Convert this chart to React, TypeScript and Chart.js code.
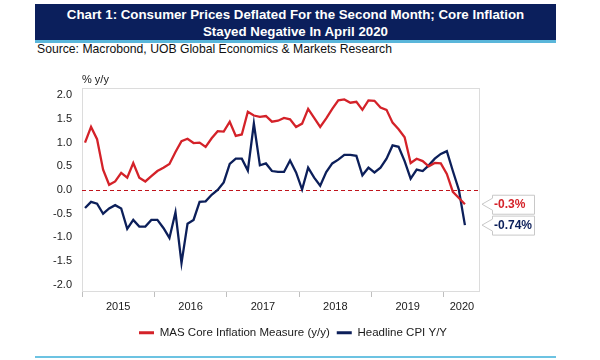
import React, { useEffect, useRef } from "react";
import { Chart, registerables } from "chart.js";

Chart.register(...registerables);

const FONT = "'Liberation Sans', Arial, Helvetica, sans-serif";

const titleLines = [
  "Chart 1: Consumer Prices Deflated For the Second Month; Core Inflation",
  "Stayed Negative In April 2020",
];
const sourceText = "Source: Macrobond, UOB Global Economics & Markets Research";
const yUnit = "% y/y";

const years = ["2015", "2016", "2017", "2018", "2019", "2020"];
const monthsShown = 66; // Jan 2015 .. Jun 2020 axis span

const seriesNames = ["MAS Core Inflation Measure (y/y)", "Headline CPI Y/Y"];

// Monthly, Jan 2015 .. Apr 2020
const coreInflation = [
  1.0, 1.33, 1.07, 0.43, 0.11, 0.18, 0.36, 0.26, 0.57, 0.26, 0.18, 0.29,
  0.4, 0.47, 0.55, 0.8, 1.03, 1.08, 0.99, 1.0, 0.91, 1.09, 1.24, 1.23,
  1.44, 1.14, 1.17, 1.65, 1.57, 1.54, 1.56, 1.44, 1.46, 1.52, 1.49, 1.33,
  1.4, 1.71, 1.52, 1.33, 1.51, 1.71, 1.89, 1.91, 1.84, 1.86, 1.69, 1.89,
  1.88, 1.74, 1.69, 1.42, 1.28, 1.11, 0.57, 0.66, 0.61, 0.5, 0.57, 0.56,
  0.34, -0.04, -0.17, -0.3,
];
const headlineCpi = [
  -0.38, -0.25, -0.29, -0.5, -0.39, -0.32, -0.39, -0.82, -0.63, -0.77, -0.77, -0.63,
  -0.63, -0.8, -1.01, -0.47, -1.54, -0.71, -0.63, -0.25, -0.24, -0.1, 0.0, 0.16,
  0.55, 0.66, 0.66, 0.41, 1.4, 0.52, 0.56, 0.4, 0.38, 0.38, 0.62, 0.37,
  0.01, 0.47, 0.26, 0.09, 0.38, 0.56, 0.64, 0.74, 0.74, 0.72, 0.31, 0.47,
  0.37, 0.47, 0.66, 0.94, 0.91, 0.61, 0.24, 0.43, 0.4, 0.52, 0.66, 0.76,
  0.82, 0.4, 0.0, -0.74,
];

const calloutLabels = ["-0.3%", "-0.74%"];
const yTickValues = [2.0, 1.5, 1.0, 0.5, 0.0, -0.5, -1.0, -1.5, -2.0];
const yMin = -2.15;
const yMax = 2.15;

const RED = "#d42229";
const NAVY = "#0c1f5a";

const toPoints = (arr: number[]) => arr.map((v, i) => ({ x: i + 0.5, y: v }));

function yearCenter(k: number) {
  const start = k * 12;
  return Math.min(start + 6, (start + monthsShown) / 2);
}

const xTickValues = (() => {
  const vals: number[] = [];
  years.forEach((_, k) => {
    const s = k * 12;
    if (s <= monthsShown) vals.push(s);
    vals.push(yearCenter(k));
  });
  vals.push(monthsShown);
  return Array.from(new Set(vals)).sort((a, b) => a - b);
})();

const decorPlugin = {
  id: "decor",
  beforeDatasetsDraw(chart: any) {
    const { ctx, chartArea } = chart;
    const { left, top, right, bottom } = chartArea;
    ctx.save();
    ctx.strokeStyle = "#dcdcdc";
    ctx.lineWidth = 1;
    ctx.strokeRect(left + 0.5, top + 0.5, right - left - 1, bottom - top - 1);
    const y0 = Math.round(chart.scales.y.getPixelForValue(0)) + 0.5;
    ctx.strokeStyle = "#c0141c";
    ctx.setLineDash([4, 3]);
    ctx.beginPath();
    ctx.moveTo(left, y0);
    ctx.lineTo(right, y0);
    ctx.stroke();
    ctx.restore();
  },
  afterDraw(chart: any) {
    const { ctx, chartArea } = chart;
    ctx.save();
    ctx.fillStyle = "#1a1a1a";
    ctx.font = `11px ${FONT}`;
    ctx.textBaseline = "middle";
    ctx.textAlign = "left";
    ctx.fillText(yUnit, chartArea.left, chartArea.top - 8);

    const colors = [RED, NAVY];
    const series = [coreInflation, headlineCpi];
    series.forEach((s, k) => {
      const cy = chart.scales.y.getPixelForValue(s[s.length - 1]);
      const tipX = chartArea.right + 2;
      const bx = chartArea.right + 12;
      const bw = 42;
      const bh = 19;
      const bt = cy - bh / 2;
      ctx.beginPath();
      ctx.moveTo(bx + 0.5, bt + 0.5);
      ctx.lineTo(bx + bw + 0.5, bt + 0.5);
      ctx.lineTo(bx + bw + 0.5, bt + bh + 0.5);
      ctx.lineTo(bx + 0.5, bt + bh + 0.5);
      ctx.lineTo(bx + 0.5, cy + 6);
      ctx.lineTo(tipX, cy);
      ctx.lineTo(bx + 0.5, cy - 6);
      ctx.closePath();
      ctx.fillStyle = "#ffffff";
      ctx.fill();
      ctx.strokeStyle = "#c8c8c8";
      ctx.lineWidth = 1;
      ctx.stroke();
      ctx.fillStyle = colors[k];
      ctx.font = `bold 12px ${FONT}`;
      ctx.textAlign = "left";
      ctx.textBaseline = "middle";
      ctx.fillText(calloutLabels[k], bx + 2, cy + 0.5);
    });
    ctx.restore();
  },
};

function ChartCanvas() {
  const ref = useRef<HTMLCanvasElement | null>(null);
  useEffect(() => {
    if (!ref.current) return;
    const chart = new Chart(ref.current, {
      type: "line",
      data: {
        datasets: [
          {
            label: seriesNames[0],
            data: toPoints(coreInflation),
            borderColor: RED,
            backgroundColor: RED,
            borderWidth: 2.3,
            pointRadius: 0,
            tension: 0,
            fill: false,
          },
          {
            label: seriesNames[1],
            data: toPoints(headlineCpi),
            borderColor: NAVY,
            backgroundColor: NAVY,
            borderWidth: 2.3,
            pointRadius: 0,
            tension: 0,
            fill: false,
          },
        ],
      },
      options: {
        animation: false,
        responsive: false,
        layout: { padding: { top: 28, bottom: 1.5, left: 0, right: 14 } },
        plugins: {
          tooltip: { enabled: false },
          legend: {
            position: "bottom",
            labels: {
              boxWidth: 15,
              boxHeight: 3,
              padding: 7,
              color: "#1a1a1a",
              font: { family: FONT, size: 11.5 },
              generateLabels: (c: any) =>
                (Chart.defaults.plugins.legend.labels.generateLabels as any)(c).map((l: any) => ({
                  ...l,
                  lineWidth: 0,
                })),
            },
          },
        },
        scales: {
          x: {
            type: "linear",
            min: 0,
            max: monthsShown,
            afterBuildTicks: (scale: any) => {
              scale.ticks = xTickValues.map((v) => ({ value: v }));
            },
            afterFit: (scale: any) => {
              scale.height = 28;
            },
            border: { display: false },
            grid: {
              drawOnChartArea: false,
              drawTicks: true,
              tickLength: 5,
              color: (ctx: any) =>
                ctx.tick && ctx.tick.value % 12 === 0 && ctx.tick.value < monthsShown ? "#bfbfbf" : "rgba(0,0,0,0)",
              tickColor: (ctx: any) =>
                ctx.tick && ctx.tick.value % 12 === 0 && ctx.tick.value < monthsShown ? "#bfbfbf" : "rgba(0,0,0,0)",
            },
            ticks: {
              autoSkip: false,
              maxRotation: 0,
              padding: 3,
              color: "#1a1a1a",
              font: { family: FONT, size: 11 },
              callback: (value: any) => {
                const k = years.findIndex((_, i) => Math.abs(yearCenter(i) - Number(value)) < 1e-6);
                return k >= 0 ? years[k] : "";
              },
            },
          },
          y: {
            type: "linear",
            position: "left",
            min: yMin,
            max: yMax,
            afterBuildTicks: (scale: any) => {
              scale.ticks = yTickValues.map((v) => ({ value: v }));
            },
            afterFit: (scale: any) => {
              scale.width = 82;
            },
            border: { display: false },
            grid: { display: false, drawTicks: false },
            ticks: {
              padding: 10,
              color: "#1a1a1a",
              font: { family: FONT, size: 11 },
              callback: (value: any) => Number(value).toFixed(1),
            },
          },
          yRight: {
            type: "linear",
            position: "right",
            afterFit: (scale: any) => {
              scale.width = 106;
            },
            border: { display: false },
            grid: { display: false, drawTicks: false },
            ticks: { display: false },
          },
        },
      } as any,
      plugins: [decorPlugin],
    });
    return () => chart.destroy();
  }, []);
  return <canvas ref={ref} width={600} height={290} style={{ display: "block" }} />;
}

export default function App() {
  return (
    <div
      style={{
        position: "absolute",
        left: 0,
        top: 0,
        width: 600,
        height: 360,
        background: "#ffffff",
        fontFamily: FONT,
        overflow: "hidden",
      }}
    >
      <div
        style={{
          position: "absolute",
          left: 35,
          top: 4,
          width: 521,
          height: 36,
          boxSizing: "border-box",
          paddingTop: 1.5,
          background: "#0b1f5c",
          color: "#ffffff",
          fontWeight: "bold",
          fontSize: 13.3,
          lineHeight: "17px",
          textAlign: "center",
          whiteSpace: "nowrap",
        }}
      >
        {titleLines[0]}
        <br />
        {titleLines[1]}
      </div>
      <div style={{ position: "absolute", left: 35, top: 40, width: 521, height: 2.5, background: "#5ab6da" }} />
      <div
        style={{
          position: "absolute",
          left: 37,
          top: 42,
          fontSize: 12.2,
          lineHeight: "14px",
          color: "#111111",
          whiteSpace: "nowrap",
        }}
      >
        {sourceText}
      </div>
      <div style={{ position: "absolute", left: 0, top: 60, width: 600, height: 290 }}>
        <ChartCanvas />
      </div>
      <div style={{ position: "absolute", left: 35, top: 356, width: 521, height: 2, background: "#6cc3e2" }} />
    </div>
  );
}
